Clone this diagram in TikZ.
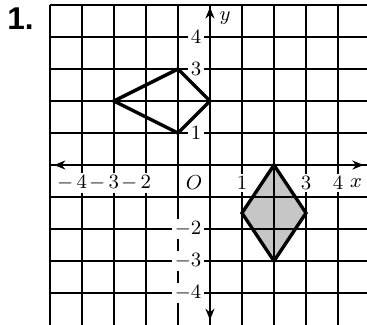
\documentclass[tikz,border=0pt]{standalone}
\usepackage{fontspec}
\newfontfamily\headfont{Liberation Sans}
\usetikzlibrary{arrows.meta}
\definecolor{shadeGray}{RGB}{198,198,198}
\newcommand{\NegNum}[1]{$\llap{$-$\,}#1$}

\begin{document}
\begin{tikzpicture}[x=0.5cm,y=0.5cm,
  gridline/.style={line width=1pt},
  axisline/.style={line width=1pt,{Stealth[length=5pt,width=4pt]}-{Stealth[length=5pt,width=4pt]}},
  rhombus/.style={line width=1.5pt,line join=miter},
  numlabel/.style={fill=white,inner sep=1.2pt,font=\fontsize{9}{10}\selectfont}]
\useasboundingbox (-6.56,-4.97) rectangle (4.906,5.156);
% shaded figure under the grid
\fill[shadeGray] (2,0) -- (3,-1.5) -- (2,-3) -- (1,-1.5) -- cycle;
% grid
\foreach \i in {-5,...,4}
  \draw[gridline] (\i,-5) -- (\i,5);
\foreach \j in {-4,...,5}
  \draw[gridline] (-5,\j) -- (5,\j);
% axes
\coordinate (xl) at (-4.87,0);
\coordinate (xr) at (4.8,0);
\coordinate (yb) at (0,-4.84);
\coordinate (yt) at (0,4.93);
\draw[axisline] (xl) -- (xr);
\draw[axisline] (yb) -- (yt);
% numbers on the axes
\foreach \n in {4,3,2}
  \node[numlabel] (xm\n) at (-\n,-0.56) {\NegNum{\n}};
\foreach \n in {1,3,4}
  \node[numlabel] (xp\n) at (\n,-0.56) {$\n$};
\foreach \n in {1,3,4}
  \node[numlabel,anchor=east] (yp\n) at (-0.17,\n) {$\n$};
\foreach \n in {2,3,4}
  \node[numlabel,anchor=east] (ym\n) at (-0.17,-\n) {$-\n$};
\node[numlabel] (orig) at (-0.5,-0.56) {$O$};
\node[numlabel,fill=none] (xname) at (4.56,-0.56) {$x$};
\node[numlabel,fill=none] (yname) at (0.47,4.59) {$y$};
% the two figures
\draw[rhombus] (-3,2) -- (-1,3) -- (0,2) -- (-1,1) -- cycle;
\draw[rhombus] (2,0) -- (3,-1.5) -- (2,-3) -- (1,-1.5) -- cycle;
\node[font=\headfont\bfseries\fontsize{14}{15}\selectfont,inner sep=0pt] (title) at (-5.92,4.56) {1.};
\end{tikzpicture}
\end{document}
